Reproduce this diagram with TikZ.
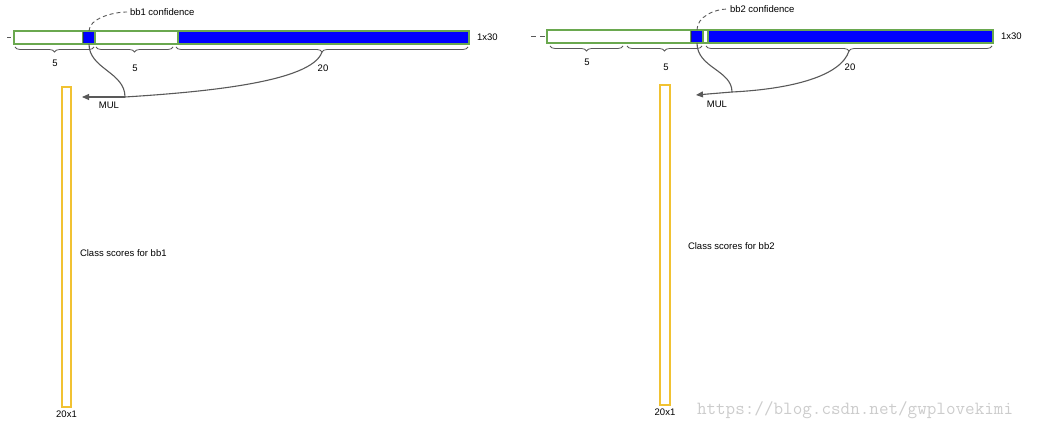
\documentclass[tikz,border=0pt]{standalone}
\usepackage{fontspec}
\setmainfont{Liberation Sans}
\usepackage{tikz}
\usetikzlibrary{arrows.meta,positioning,decorations.pathreplacing,calc}
\definecolor{cellgreen}{HTML}{6AA84F}
\definecolor{cellblue}{HTML}{0000FF}
\definecolor{confblue}{HTML}{1C1C80}
\definecolor{scoreyellow}{HTML}{F1C232}
\definecolor{linegray}{HTML}{595959}

\begin{document}
\begin{tikzpicture}[x=1pt, y=-1pt,
  every node/.style={font=\fontsize{9.5}{11}\selectfont, inner sep=0pt, outer sep=0pt},
  blank/.style={rectangle, draw=cellgreen, line width=1.5pt, fill=white,
                anchor=north west, minimum height=13pt},
  conf/.style={rectangle, draw=confblue, line width=1pt, fill=cellblue,
               anchor=north west, minimum height=13pt, minimum width=12pt},
  cls/.style={rectangle, draw=cellgreen, line width=1.5pt, fill=cellblue,
              anchor=north west, minimum height=13pt},
  bar/.style={rectangle, draw=cellgreen, line width=1.5pt,
              anchor=north west, minimum height=13pt},
  score/.style={rectangle, draw=scoreyellow, line width=2.5pt,
                anchor=north west},
  brace/.style={decorate, decoration={brace, mirror, amplitude=5pt},
                draw=linegray, line width=0.8pt},
  link/.style={draw=linegray, line width=1.1pt},
  tag/.style={draw=linegray, line width=0.9pt, dash pattern=on 4pt off 3pt},
  mul/.style={-{Triangle[length=7pt,width=6pt]}, draw=linegray, fill=linegray, line width=1.1pt},
]
\useasboundingbox (0,0) rectangle (1037,430);

% ---------- bb1 ----------
\node[blank, minimum width=69pt] (w1a) at (14,31) {};
\node[conf] (c1) at (83,31) {};
\node[blank, minimum width=83pt] (w1b) at (95,31) {};
\node[cls, minimum width=291pt] (b1) at (178,31) {};
\node[bar, minimum width=455pt] (bar1) at (14,31) {};
\node[right=8pt of bar1.east] (size1) {1x30};
\coordinate (lead1) at (7,37.5);
\draw[tag, dash pattern=on 4pt off 4pt] (lead1) -- (bar1.west);

% braces
\draw[brace] (15,47) -- (94,47);
\draw[brace] (96,47) -- (173,47);
\draw[brace] (176,47) -- (468,47);
\node (n1a) at (55,63) {5};
\node (n1b) at (135,68) {5};
\node (n1c) at (323,68) {20};
\coordinate (tip1) at (322,52);

% confidence label
\node[anchor=west] (conf1) at (130,12) {bb1 confidence};
\draw[tag] (c1.north) .. controls +(0,-12) and +(-15,0) .. ($(conf1.west)+(-3,0)$);

% multiply
\coordinate (mul1) at (125,97);
\coordinate (arr1) at (82,97);
\draw[link] (c1.south) .. controls +(0,25) and +(0,-25) .. (mul1);
\draw[link] (tip1) .. controls +(-10,30) and +(80,-5) .. (mul1);
\draw[mul] (mul1) -- (arr1);
\node (mullab1) at (109,105.5) {MUL};

% class scores
\node[score, minimum width=9pt, minimum height=320pt] (score1) at (62,87) {};
\node[below=4pt of score1] (dim1) {20x1};
\node[anchor=west] (txt1) at (80,253) {Class scores for bb1};

% ---------- bb2 ----------
\node[blank, minimum width=144pt] (w2a) at (547,30) {};
\node[conf] (c2) at (691,30) {};
\node[blank, minimum width=5pt] (w2b) at (703,30) {};
\node[cls, minimum width=285pt] (b2) at (708,30) {};
\node[bar, minimum width=446pt] (bar2) at (547,30) {};
\node[right=8pt of bar2.east] (size2) {1x30};
\coordinate (lead2) at (531,36.5);
\draw[tag, dash pattern=on 5pt off 4pt] (lead2) -- (bar2.west);

% braces
\draw[brace] (550,46) -- (623,46);
\draw[brace] (627,46) -- (702,46);
\draw[brace] (706,46) -- (992,46);
\node (n2a) at (587,62) {5};
\node (n2b) at (666,67) {5};
\node (n2c) at (850,67) {20};
\coordinate (tip2) at (849,51);

% confidence label
\node[anchor=west] (conf2) at (730,9) {bb2 confidence};
\draw[tag] (c2.north) .. controls +(0,-13) and +(-14,0) .. ($(conf2.west)+(-2,0)$);

% multiply
\coordinate (mul2) at (732,92);
\coordinate (arr2) at (696,95);
\draw[link] (c2.south) .. controls +(0,25) and +(0,-22) .. (mul2);
\draw[link] (tip2) .. controls +(-8,25) and +(60,-3) .. (mul2);
\draw[mul] (mul2) -- (arr2);
\node (mullab2) at (717,104) {MUL};

% class scores
\node[score, minimum width=10pt, minimum height=320pt] (score2) at (660,85) {};
\node[below=4pt of score2] (dim2) {20x1};
\node[anchor=west] (txt2) at (688,246) {Class scores for bb2};

% watermark
\node[anchor=base west, text=black!20, font=\ttfamily\fontsize{18.6}{19}\selectfont] (mark) at (697,415) {https://blog.csdn.net/gwplovekimi};
\end{tikzpicture}
\end{document}
